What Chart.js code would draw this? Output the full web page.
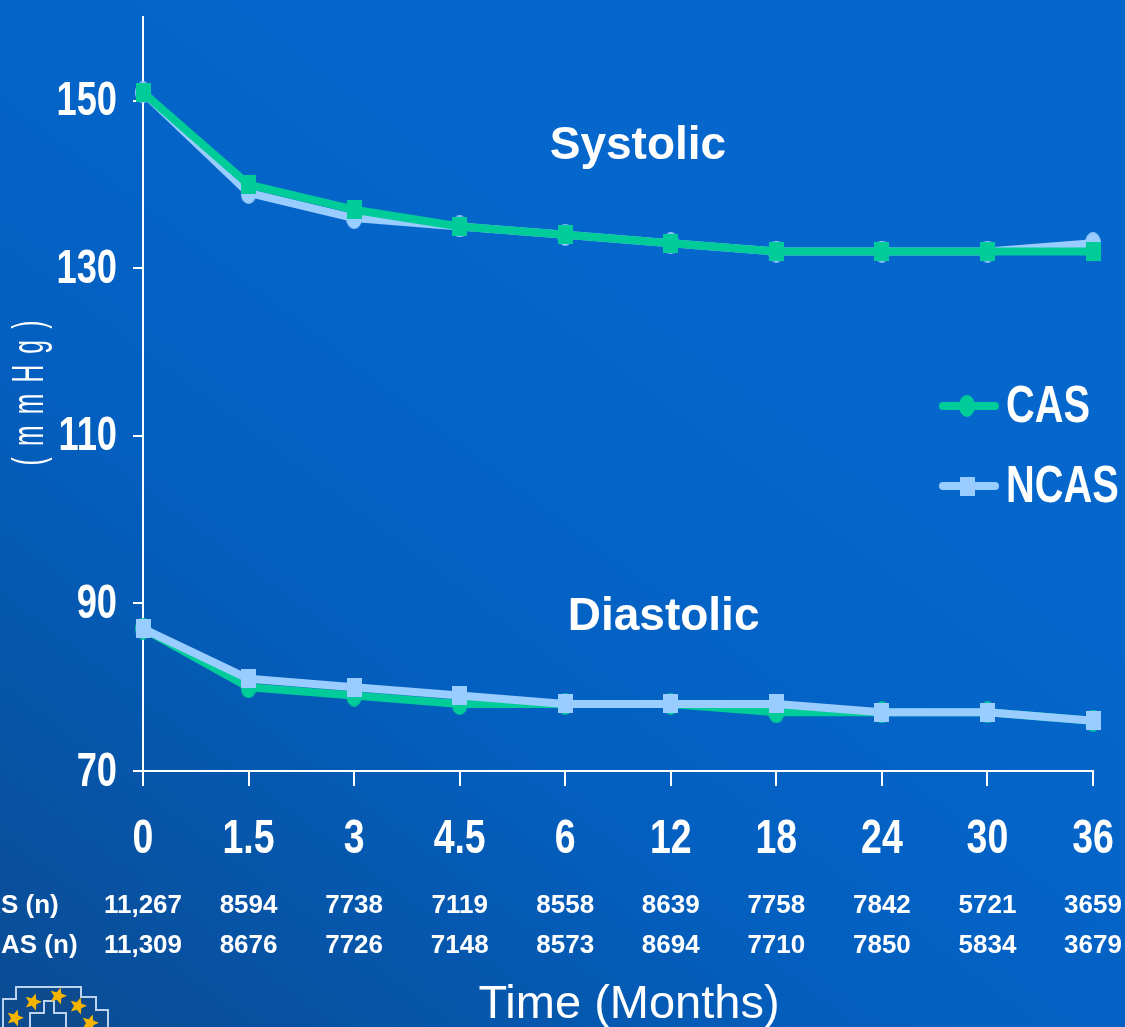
<!DOCTYPE html>
<html>
<head>
<meta charset="utf-8">
<script src="https://cdn.jsdelivr.net/npm/chart.js@4.4.1/dist/chart.umd.min.js"></script>
<style>
  html, body { margin: 0; padding: 0; background: #0562c4; overflow: hidden; }
  #wrap { position: relative; width: 1125px; height: 1027px; }
  canvas { display: block; }
</style>
</head>
<body>
<div id="wrap"><canvas id="bp" width="1125" height="1027"></canvas></div>
<script>
// Follow-up visits (months)
const months = ['0', '1.5', '3', '4.5', '6', '12', '18', '24', '30', '36'];

// Mean blood pressure, mmHg
const casSystolic   = [151, 140, 137, 135, 134, 133, 132, 132, 132, 132];
const ncasSystolic  = [151, 139, 136, 135, 134, 133, 132, 132, 132, 133];
const casDiastolic  = [87, 80, 79, 78, 78, 78, 77, 77, 77, 76];
const ncasDiastolic = [87, 81, 80, 79, 78, 78, 78, 77, 77, 76];

// Patients measured at each visit
const casCounts  = ['11,267', '8594', '7738', '7119', '8558', '8639', '7758', '7842', '5721', '3659'];
const ncasCounts = ['11,309', '8676', '7726', '7148', '8573', '8694', '7710', '7850', '5834', '3679'];

const yTicks = [70, 90, 110, 130, 150];

const GREEN = '#00cc99';
const LIGHT = '#99ccff';
const SANS = "'Liberation Sans', Arial, sans-serif";

// Marker sprites: tall ellipse and tall square
function ellipseSprite(color, w, h) {
  const c = document.createElement('canvas');
  c.width = w; c.height = h;
  const g = c.getContext('2d');
  g.fillStyle = color;
  g.beginPath();
  g.ellipse(w / 2, h / 2, w / 2, h / 2, 0, 0, Math.PI * 2);
  g.fill();
  return c;
}
function rectSprite(color, w, h) {
  const c = document.createElement('canvas');
  c.width = w; c.height = h;
  const g = c.getContext('2d');
  g.fillStyle = color;
  g.fillRect(0, 0, w, h);
  return c;
}
const greenDot = ellipseSprite(GREEN, 16, 22);
const lightDot = ellipseSprite(LIGHT, 16, 22);
const greenSq  = rectSprite(GREEN, 15, 19);
const lightSq  = rectSprite(LIGHT, 15, 19);

function series(label, data, color, sprite, order, inLegend) {
  return {
    label, data, order, inLegend,
    borderColor: color, backgroundColor: color,
    borderWidth: 8, tension: 0,
    pointStyle: sprite, pointRadius: 9, pointHoverRadius: 9,
    borderJoinStyle: 'round', borderCapStyle: 'round'
  };
}

// Condensed bold text: regular bold face squeezed horizontally
function narrowText(ctx, text, x, y, size, squeeze, align) {
  ctx.save();
  ctx.font = `bold ${size}px ${SANS}`;
  ctx.textAlign = align;
  ctx.textBaseline = 'middle';
  ctx.translate(x, y);
  ctx.scale(squeeze, 1);
  ctx.fillText(text, 0, 0);
  ctx.restore();
}

// Slide-style blue background
const backdrop = {
  id: 'backdrop',
  beforeDraw(chart) {
    const { ctx, width, height } = chart;
    const g = ctx.createLinearGradient(0, height, width * 0.55, height * 0.2);
    g.addColorStop(0, '#0a4b92');
    g.addColorStop(0.55, '#0360c1');
    g.addColorStop(1, '#0567cc');
    ctx.save();
    ctx.fillStyle = g;
    ctx.fillRect(0, 0, width, height);
    ctx.restore();
  }
};

function star(ctx, cx, cy, r) {
  ctx.beginPath();
  for (let i = 0; i < 10; i++) {
    const rad = i % 2 === 0 ? r : r * 0.45;
    const a = -Math.PI / 2 + i * Math.PI / 5 + 0.3;
    const px = cx + rad * Math.cos(a), py = cy + rad * Math.sin(a);
    if (i === 0) ctx.moveTo(px, py); else ctx.lineTo(px, py);
  }
  ctx.closePath();
  ctx.fill();
}

// Tick labels, curve labels, legend, sample-size table and axis titles
const decorations = {
  id: 'decorations',
  afterDraw(chart) {
    const { ctx, scales: { x, y }, chartArea } = chart;
    ctx.save();
    ctx.fillStyle = '#ffffff';

    // Axis tick labels in a condensed face
    y.ticks.forEach(t => {
      narrowText(ctx, String(t.value), x.left - 26, y.getPixelForValue(t.value) + 1, 49, 0.74, 'right');
    });
    x.ticks.forEach(t => {
      narrowText(ctx, x.getLabelForValue(t.value), x.getPixelForValue(t.value), 840, 48, 0.78, 'center');
    });

    ctx.textAlign = 'center';
    ctx.textBaseline = 'middle';

    // Curve group labels
    ctx.font = `bold 46px ${SANS}`;
    ctx.fillText('Systolic', chartArea.left + chartArea.width * 0.521, y.getPixelForValue(144.6));
    ctx.fillText('Diastolic', chartArea.left + chartArea.width * 0.548, y.getPixelForValue(88.4));

    // Legend, built from the diastolic pair
    const items = chart.data.datasets.filter(d => d.inLegend);
    items.forEach((d, i) => {
      const ly = 406 + i * 80;
      ctx.strokeStyle = d.borderColor;
      ctx.lineWidth = 8;
      ctx.lineCap = 'round';
      ctx.beginPath();
      ctx.moveTo(943, ly);
      ctx.lineTo(995, ly);
      ctx.stroke();
      const s = d.pointStyle;
      ctx.drawImage(s, 967 - s.width / 2, ly - s.height / 2);
      narrowText(ctx, d.label, 1006, ly + 2, 51, 0.78, 'left');
    });

    // Sample sizes per visit
    ctx.font = `bold 26px ${SANS}`;
    ctx.textAlign = 'left';
    const x0 = 1 - ctx.measureText('CA').width;
    ctx.fillText('CAS (n)', x0, 906);
    ctx.fillText('NCAS (n)', x0, 946);
    ctx.textAlign = 'center';
    months.forEach((m, i) => {
      const px = x.getPixelForValue(i);
      ctx.fillText(casCounts[i], px, 906);
      ctx.fillText(ncasCounts[i], px, 946);
    });

    // X axis title
    ctx.font = `47px ${SANS}`;
    ctx.fillText('Time (Months)', 629, 1005);

    // Y axis title, narrow and letter-spaced
    ctx.save();
    ctx.translate(31, 393);
    ctx.rotate(-Math.PI / 2);
    ctx.scale(0.56, 1);
    ctx.font = `44px ${SANS}`;
    ctx.letterSpacing = '20px';
    ctx.fillText('(mmHg)', 10, 0);
    ctx.restore();

    // Small EU emblem in the corner
    ctx.save();
    ctx.fillStyle = '#0d4a8e';
    ctx.strokeStyle = 'rgba(220,235,255,0.85)';
    ctx.lineWidth = 2;
    ctx.beginPath();
    ctx.moveTo(3, 1030); ctx.lineTo(3, 999); ctx.lineTo(16, 999); ctx.lineTo(16, 987);
    ctx.lineTo(81, 987); ctx.lineTo(81, 997); ctx.lineTo(96, 997); ctx.lineTo(96, 1010);
    ctx.lineTo(108, 1010); ctx.lineTo(108, 1030);
    ctx.closePath();
    ctx.fill();
    ctx.stroke();
    ctx.beginPath();
    ctx.moveTo(30, 1030); ctx.lineTo(30, 1013); ctx.lineTo(44, 1013); ctx.lineTo(44, 1001);
    ctx.lineTo(54, 1001); ctx.lineTo(54, 1013); ctx.lineTo(66, 1013); ctx.lineTo(66, 1030);
    ctx.stroke();
    ctx.fillStyle = '#f4b400';
    [[33, 1002], [58, 996], [78, 1006], [15, 1018], [90, 1023]].forEach(([sx, sy]) => star(ctx, sx, sy, 9));
    ctx.restore();

    ctx.restore();
  }
};

new Chart(document.getElementById('bp'), {
  type: 'line',
  data: {
    labels: months,
    datasets: [
      series('CAS', casSystolic, GREEN, greenSq, 2, false),
      series('NCAS', ncasSystolic, LIGHT, lightDot, 3, false),
      series('CAS', casDiastolic, GREEN, greenDot, 3, true),
      series('NCAS', ncasDiastolic, LIGHT, lightSq, 2, true)
    ]
  },
  options: {
    responsive: false,
    animation: false,
    events: [],
    layout: { padding: { left: 0, top: 12, right: 32, bottom: 0 } },
    plugins: { legend: { display: false }, tooltip: { enabled: false } },
    scales: {
      x: {
        type: 'category',
        offset: false,
        afterFit(s) {
          s.height = 1027 - 771;
          s.paddingLeft = 0; s.paddingRight = 0;
        },
        border: { display: true, color: '#ffffff', width: 2 },
        grid: { drawOnChartArea: false, color: '#ffffff', lineWidth: 2, tickLength: 15 },
        ticks: { display: false, autoSkip: false, maxRotation: 0 }
      },
      y: {
        min: 70, max: 160,
        afterFit(s) {
          s.width = 143;
          s.paddingTop = 0; s.paddingBottom = 0;
        },
        afterBuildTicks(s) { s.ticks = yTicks.map(v => ({ value: v })); },
        border: { display: true, color: '#ffffff', width: 2 },
        grid: { drawOnChartArea: false, color: '#ffffff', lineWidth: 2, tickLength: 10 },
        ticks: { display: false }
      }
    }
  },
  plugins: [backdrop, decorations]
});
</script>
</body>
</html>
